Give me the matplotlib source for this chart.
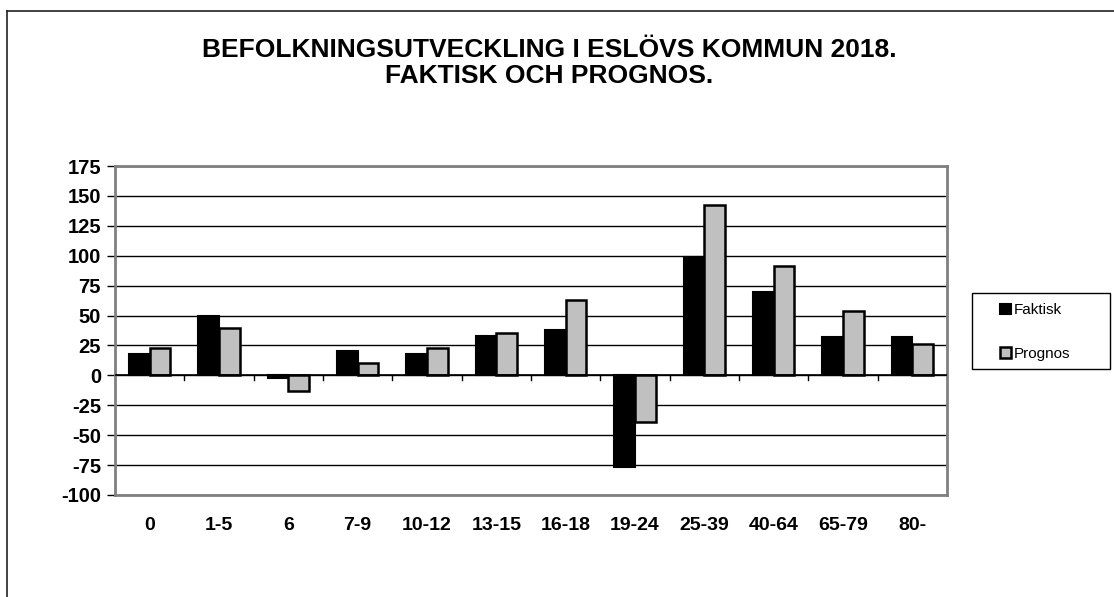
import matplotlib.pyplot as plt
import numpy as np
from matplotlib.lines import Line2D
from matplotlib.patches import Rectangle

plt.rcParams['font.family'] = ['Liberation Sans', 'DejaVu Sans']

# data
age_groups = ['0', '1-5', '6', '7-9', '10-12', '13-15', '16-18', '19-24',
              '25-39', '40-64', '65-79', '80-']
faktisk = [18, 50, -2, 20, 18, 33, 38, -77, 99, 70, 32, 32]
prognos = [23, 40, -13, 10, 23, 35, 63, -39, 142, 91, 54, 26]
y_ticks = list(range(-100, 176, 25))

W, H = 1114, 597
fig = plt.figure(figsize=(W / 100, H / 100), dpi=100)

# plot area in pixel coords: x 115..947, y 166..495 (from top)
ax = fig.add_axes([115 / W, (H - 495) / H, (947 - 115) / W, (495 - 166) / H])

x = np.arange(len(age_groups))
bw = 0.3
ax.bar(x - bw / 2, faktisk, bw, color='black', edgecolor='black',
       linewidth=1.5, label='Faktisk', zorder=3)
ax.bar(x + bw / 2, prognos, bw, color='#C0C0C0', edgecolor='black',
       linewidth=1.8, label='Prognos', zorder=3)

ax.set_xlim(-0.5, len(age_groups) - 0.5)
ax.set_ylim(-100, 175)
ax.set_yticks(y_ticks)
ax.set_yticklabels([str(v) for v in y_ticks], fontsize=14.5, fontweight='bold')
ax.set_xticks(x)
ax.set_xticklabels(age_groups, fontsize=14, fontweight='bold')
ax.tick_params(axis='x', length=0, pad=16)
ax.tick_params(axis='y', length=6, width=1, color='black', pad=4)

# horizontal gridlines
ax.yaxis.grid(True, color='black', linewidth=1)
ax.set_axisbelow(True)

# zero line + category boundary ticks
ax.axhline(0, color='black', linewidth=1.2, zorder=4)
for b in np.arange(0.5, len(age_groups) - 0.5, 1.0):
    ax.plot([b, b], [0, -4], color='black', linewidth=1, zorder=4)

for s in ax.spines.values():
    s.set_color('#808080')
    s.set_linewidth(2)

# title
fig.text(549 / W, 1 - 50 / H, 'BEFOLKNINGSUTVECKLING I ESLÖVS KOMMUN 2018.',
         ha='center', va='center', fontsize=19, fontweight='bold')
fig.text(549 / W, 1 - 76 / H, 'FAKTISK OCH PROGNOS.',
         ha='center', va='center', fontsize=19, fontweight='bold')

# legend box (drawn separately so it can match the wide reference box)
fig.add_artist(Rectangle((972 / W, 1 - 369 / H), (1110 - 972) / W, 76 / H,
                         transform=fig.transFigure, facecolor='white',
                         edgecolor='black', linewidth=1))
leg = fig.legend(loc='center left', bbox_to_anchor=(1000 / W, 1 - 332 / H),
                 fontsize=11, frameon=False,
                 handlelength=0.7, handleheight=0.7, handletextpad=0.2,
                 labelspacing=1.9, borderpad=0, borderaxespad=0)

# outer chart border (top and left visible)
fig.add_artist(Line2D([7 / W, 1], [1 - 11 / H, 1 - 11 / H], color='#222222',
                      linewidth=1.2, transform=fig.transFigure))
fig.add_artist(Line2D([7 / W, 7 / W], [0, 1 - 11 / H], color='#222222',
                      linewidth=1.2, transform=fig.transFigure))

fig.savefig('out.png', dpi=100)
